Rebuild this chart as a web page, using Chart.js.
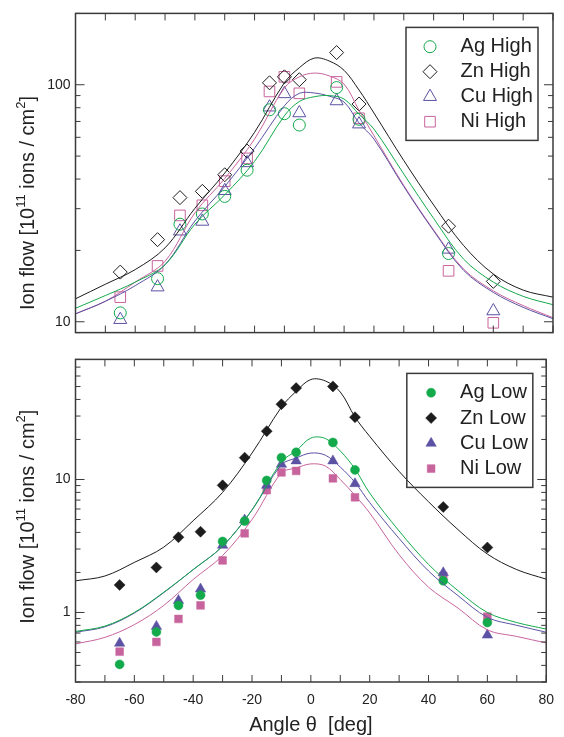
<!DOCTYPE html>
<html>
<head>
<meta charset="utf-8">
<script src="https://cdn.jsdelivr.net/npm/chart.js@4.4.0/dist/chart.umd.min.js"></script>
<style>
  html, body { margin: 0; padding: 0; background: #fff; }
  #wrap { position: relative; width: 564px; height: 737px; }
  .panel { position: absolute; left: 0; width: 564px; }
  #top { top: 0; height: 346px; }
  #bottom { top: 346px; height: 391px; }
</style>
</head>
<body>
<div id="wrap">
  <div class="panel" id="top"><canvas id="chartTop"></canvas></div>
  <div class="panel" id="bottom"><canvas id="chartBottom"></canvas></div>
</div>
<script>
// measured angles (deg)
const angles = [-65, -52.5, -45, -37.5, -30, -22.5, -15, -10, -5, 7.5, 15, 45, 60];

// high energy points
const agHigh = [10.9, 15.2, 25.8, 28.5, 33.8, 43.6, 78.4, 75.5, 67.6, 97.3, 71.5, 19.4, null];
const znHigh = [16.2, 22.2, 33.4, 35.5, 41.7, 52.5, 101.9, 108, 105, 136.7, 82.9, 25.3, 14.8];
const cuHigh = [10.2, 14.0, 24.1, 26.5, 35.7, 46.8, 80.4, 91.5, 76, 85.4, 68.2, 20.2, 11.1];
const niHigh = [12.7, 17.2, 28.1, 31.0, 39.2, 48.9, 93.7, 108, 92, 102.8, 72.2, 16.4, 9.9];

// low energy points
const agLow = [0.407, 0.714, 1.13, 1.35, 3.42, 4.87, 9.83, 14.6, 16.0, 18.97, 11.8, 1.73, 0.84];
const znLow = [1.61, 2.18, 3.68, 4.05, 9.04, 14.6, 23.1, 36.8, 48.7, 50.1, 29.4, 6.21, 3.08];
const cuLow = [0.587, 0.786, 1.23, 1.50, 3.20, 4.96, 9.04, 13.0, 13.8, 13.8, 9.3, 1.99, 0.676];
const niLow = [0.507, 0.600, 0.894, 1.13, 2.46, 3.94, 8.31, 11.3, 11.6, 10.2, 7.35, 1.88, 0.93];

// simulated curves
const fitAngles = [-80, -70, -60, -50, -40, -30, -20, -10, -5, 0, 5, 10, 15, 20, 30, 40, 50, 60, 70, 80];
const znHighFit = [12.5, 14.4, 16.6, 20.5, 30.1, 42.4, 63, 102, 118, 129.5, 126, 115, 95, 76, 47.9, 31.1, 21, 15.9, 13.6, 12.7];
const niHighFit = [10.8, 12.2, 14.7, 18.0, 28.8, 40.2, 59, 97, 108, 112, 109, 100.6, 78, 61, 37.6, 24.4, 16.7, 13.5, 11.7, 10.4];
const cuHighFit = [10.8, 12.2, 14.2, 17.4, 26.6, 37.2, 54, 81.5, 92, 92.3, 89.5, 84.5, 69, 59, 37.2, 24.2, 16.5, 13.3, 11.5, 10.3];
const agHighFit = [11.4, 12.9, 14.7, 17.4, 25.8, 34.3, 47.5, 74, 85, 89, 90, 87, 75, 65, 42, 27.3, 18.4, 14.7, 12.8, 11.8];

const znLowFit = [1.73, 1.88, 2.38, 3.1, 4.9, 8.0, 15.8, 35, 46, 56.5, 55, 45.5, 29.5, 21.1, 11.5, 6.8, 4.2, 2.75, 2.1, 1.78];
const agLowFit = [0.72, 0.79, 1.0, 1.42, 2.1, 3.15, 5.9, 13.6, 16.4, 20.5, 20.3, 16.4, 12.0, 7.9, 4.1, 2.3, 1.46, 1.0, 0.84, 0.75];
const cuLowFit = [0.71, 0.78, 0.99, 1.41, 2.1, 3.15, 5.9, 12.9, 14.5, 15.8, 15.2, 12.4, 9.5, 6.7, 3.6, 2.05, 1.34, 0.92, 0.8, 0.71];
const niLowFit = [0.58, 0.65, 0.81, 1.13, 1.77, 2.68, 5.0, 11.2, 12.2, 13.1, 12.6, 10.0, 7.6, 5.6, 2.72, 1.55, 1.08, 0.74, 0.66, 0.59];

// axes
const xLabels = [-80, -60, -40, -20, 0, 20, 40, 60, 80];
const xTickMarks = [-80, -70, -60, -50, -40, -30, -20, -10, 0, 10, 20, 30, 40, 50, 60, 70, 80];
const yLabelsTop = [10, 100];
const yLabelsBottom = [1, 10];

const family = '"Liberation Sans", Arial, Helvetica, sans-serif';
const cAg = '#13aa4c', cZn = '#1c1c1c', cCu = '#5b52a4', cNi = '#c8649d';

function pts(xs, ys) {
  return xs.map((x, i) => ({ x: x, y: ys[i] }));
}

function curve(label, ys, color) {
  return {
    label: label, data: pts(fitAngles, ys), showLine: true,
    borderColor: color, borderWidth: 1, pointRadius: 0,
    tension: 0.35, fill: false
  };
}

function marks(label, ys, color, style, r, filled) {
  return {
    label: label, data: pts(angles, ys), pointStyle: style, pointRadius: r,
    borderColor: color, backgroundColor: filled ? color : 'rgba(0,0,0,0)',
    borderWidth: filled ? 0.5 : 1, pointHoverRadius: r
  };
}

// minor/major tick values of a log axis
function logTicks(min, max) {
  const out = [];
  for (let d = Math.pow(10, Math.floor(Math.log10(min))); d <= max; d *= 10) {
    for (let m = 1; m < 10; m++) {
      const v = +(d * m).toPrecision(3);
      if (v >= min && v <= max) out.push({ v: v, major: m === 1 });
    }
  }
  return out;
}

// frame + inward ticks on all four sides
const framePlugin = {
  id: 'frame',
  afterDraw(chart, args, o) {
    const { ctx, chartArea: a, scales } = chart;
    ctx.save();
    ctx.strokeStyle = o.color;
    ctx.lineWidth = 1;
    ctx.beginPath();
    xTickMarks.forEach(v => {
      const px = scales.x.getPixelForValue(v);
      ctx.moveTo(px, a.top); ctx.lineTo(px, a.top + o.xLen);
      ctx.moveTo(px, a.bottom); ctx.lineTo(px, a.bottom - o.xLen);
    });
    logTicks(scales.y.min, scales.y.max).forEach(t => {
      const py = scales.y.getPixelForValue(t.v);
      const len = t.major ? o.majorLen : o.minorLen;
      ctx.moveTo(a.left, py); ctx.lineTo(a.left + len, py);
      ctx.moveTo(a.right, py); ctx.lineTo(a.right - len, py);
    });
    ctx.stroke();
    ctx.lineWidth = 1.5;
    ctx.strokeRect(a.left, a.top, a.right - a.left, a.bottom - a.top);
    ctx.restore();
  }
};

// boxed legend inside the plot
const boxLegend = {
  id: 'boxLegend',
  afterDraw(chart, args, o) {
    const { ctx, chartArea: a } = chart;
    const left = a.right - o.right - o.width, top = a.top + o.top;
    ctx.save();
    ctx.strokeStyle = '#3a3a3a';
    ctx.lineWidth = 1.5;
    ctx.strokeRect(left, top, o.width, o.height);
    const items = chart.data.datasets.filter(d => !d.showLine);
    items.forEach((d, i) => {
      const y = top + o.firstRow + i * o.rowGap;
      ctx.fillStyle = d.backgroundColor;
      ctx.strokeStyle = d.borderColor;
      ctx.lineWidth = d.borderWidth;
      if (Chart.helpers && Chart.helpers.drawPoint) {
        Chart.helpers.drawPoint(ctx, { pointStyle: d.pointStyle, radius: d.pointRadius, borderWidth: d.borderWidth, rotation: 0 }, left + o.markerX, y);
      }
      ctx.fillStyle = '#222';
      ctx.font = `20px ${family}`;
      ctx.textBaseline = 'middle';
      ctx.fillText(d.label, left + o.textX, y);
    });
    ctx.restore();
  }
};

// rotated y title with superscripts
const yTitle = {
  id: 'yTitle',
  afterDraw(chart, args, o) {
    const { ctx, chartArea: a } = chart;
    const parts = [['Ion flow [10', 0], ['11', 1], [' ions / cm', 0], ['2', 1], [']', 0]];
    const big = `20px ${family}`, small = `13px ${family}`;
    ctx.save();
    let w = 0;
    parts.forEach(([t, s]) => { ctx.font = s ? small : big; w += ctx.measureText(t).width; });
    ctx.translate(o.x, (a.top + a.bottom) / 2 + o.shift);
    ctx.rotate(-Math.PI / 2);
    ctx.fillStyle = '#222';
    ctx.textBaseline = 'middle';
    let x = -w / 2;
    parts.forEach(([t, s]) => {
      ctx.font = s ? small : big;
      ctx.fillText(t, x, s ? -7 : 0);
      x += ctx.measureText(t).width;
    });
    ctx.restore();
  }
};

function yAxis(min, max, labels) {
  return {
    type: 'logarithmic', min: min, max: max,
    afterBuildTicks: s => { s.ticks = labels.map(v => ({ value: v })); },
    afterFit: s => { s.width = 75.5; },
    grid: { display: false, drawTicks: false },
    border: { display: false },
    ticks: { font: { family: family, size: 14 }, color: '#222', padding: 5, callback: v => String(v) }
  };
}

new Chart(document.getElementById('chartTop'), {
  type: 'scatter',
  data: {
    datasets: [
      curve('Ag fit', agHighFit, cAg),
      curve('Zn fit', znHighFit, cZn),
      curve('Cu fit', cuHighFit, cCu),
      curve('Ni fit', niHighFit, cNi),
      marks('Ag High', agHigh, cAg, 'circle', 6, false),
      marks('Zn High', znHigh, cZn, 'rectRot', 7, false),
      marks('Cu High', cuHigh, cCu, 'triangle', 7.5, false),
      marks('Ni High', niHigh, cNi, 'rect', 7.5, false)
    ]
  },
  options: {
    responsive: true, maintainAspectRatio: false, animation: false,
    layout: { padding: { top: 10, right: 11, bottom: 3, left: 0 } },
    scales: {
      x: { type: 'linear', min: -80, max: 80, display: false },
      y: yAxis(9, 200, yLabelsTop)
    },
    plugins: {
      legend: { display: false }, tooltip: { enabled: false },
      frame: { color: '#3a3a3a', xLen: 7, majorLen: 9, minorLen: 5 },
      boxLegend: { width: 132, height: 113, right: 15, top: 14, firstRow: 19.3, rowGap: 25, markerX: 24, textX: 54.6 },
      yTitle: { x: 28, shift: 30 }
    }
  },
  plugins: [framePlugin, boxLegend, yTitle]
});

new Chart(document.getElementById('chartBottom'), {
  type: 'scatter',
  data: {
    datasets: [
      curve('Ag fit', agLowFit, cAg),
      curve('Zn fit', znLowFit, cZn),
      curve('Cu fit', cuLowFit, cCu),
      curve('Ni fit', niLowFit, cNi),
      marks('Ag Low', agLow, cAg, 'circle', 4.5, true),
      marks('Zn Low', znLow, cZn, 'rectRot', 5.5, true),
      marks('Cu Low', cuLow, cCu, 'triangle', 6, true),
      marks('Ni Low', niLow, cNi, 'rect', 5.5, true)
    ]
  },
  options: {
    responsive: true, maintainAspectRatio: false, animation: false,
    layout: { padding: { top: 4, right: 11, bottom: 0, left: 0 } },
    scales: {
      x: {
        type: 'linear', min: -80, max: 80,
        afterBuildTicks: s => { s.ticks = xLabels.map(v => ({ value: v })); },
        afterFit: s => { s.height = 55; },
        grid: { display: false, drawTicks: false },
        border: { display: false },
        ticks: { font: { family: family, size: 14 }, color: '#222', padding: 10, maxRotation: 0, autoSkip: false },
        title: { display: true, text: 'Angle θ  [deg]', color: '#222', font: { family: family, size: 20 }, padding: { top: 2, bottom: 0 } }
      },
      y: yAxis(0.3, 80, yLabelsBottom)
    },
    plugins: {
      legend: { display: false }, tooltip: { enabled: false },
      frame: { color: '#3a3a3a', xLen: 7, majorLen: 9, minorLen: 5 },
      boxLegend: { width: 126, height: 114, right: 13.4, top: 14, firstRow: 19.3, rowGap: 25.3, markerX: 24.3, textX: 53.3 },
      yTitle: { x: 28, shift: -4 }
    }
  },
  plugins: [framePlugin, boxLegend, yTitle]
});
</script>
</body>
</html>
